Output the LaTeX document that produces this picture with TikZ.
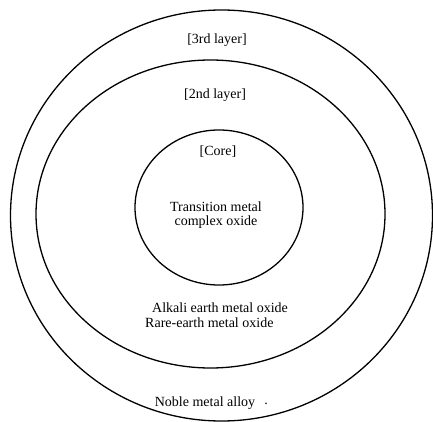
\documentclass[tikz,border=0pt]{standalone}
\usepackage{fontspec}
\setmainfont{Liberation Serif}
\begin{document}
\begin{tikzpicture}[x=1pt,y=-1pt,
  ring/.style={draw, line width=1.3pt},
  lbl/.style={font=\fontsize{14}{14.5}\selectfont, align=center, inner sep=0pt}]
\useasboundingbox (0,0) rectangle (433,422);
\draw[ring] (221.5,215.5) ellipse [x radius=211, y radius=205.5];
\draw[ring] (210.5,214) ellipse [x radius=174.5, y radius=154];
\draw[ring] (219,207.5) ellipse [x radius=84, y radius=77.5];
\node[lbl] (l3) at (217,40) {[3rd layer]};
\node[lbl] (l2) at (215,95) {[2nd layer]};
\node[lbl] (lc) at (218,152) {[Core]};
\node[lbl] (tm) at (216,215) {Transition metal\\complex oxide};
\node[lbl, anchor=west] (ae) at (152,308) {Alkali earth metal oxide};
\node[lbl, anchor=west] (re) at (145,323) {Rare-earth metal oxide};
\node[lbl] (nm) at (205,403) {Noble metal alloy};
\node[lbl] (dot) at (266,404) {.};
\end{tikzpicture}
\end{document}
